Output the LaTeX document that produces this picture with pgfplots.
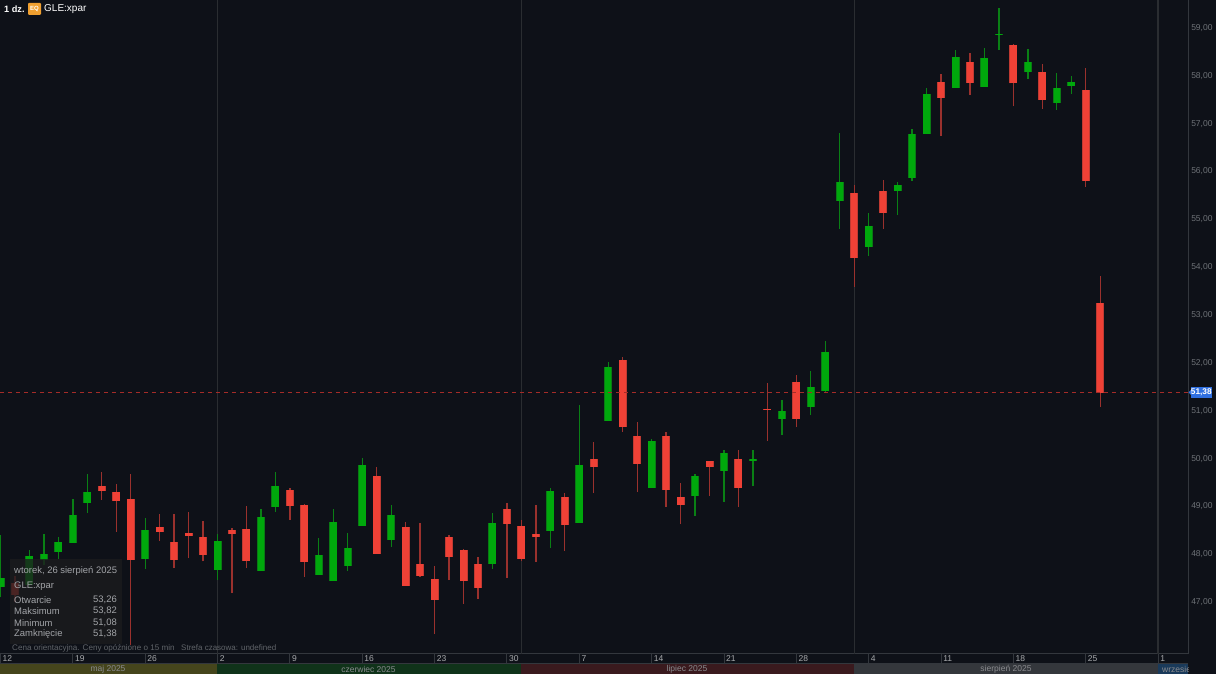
\documentclass[border=0pt]{standalone}
\usepackage{fontspec}
\setmainfont{Liberation Sans}
\usepackage{pgfplots}
\usepackage{pgfplotstable}
\pgfplotsset{compat=1.18}
\definecolor{bg}{HTML}{0E1118}
\definecolor{gridc}{HTML}{2A2D31}
\definecolor{axc}{HTML}{33373D}
\definecolor{upb}{HTML}{00A80C}
\definecolor{upd}{HTML}{0A7A14}
\definecolor{dnb}{HTML}{EF4136}
\definecolor{dnd}{HTML}{C03A32}
\definecolor{upw}{HTML}{0A8015}
\definecolor{dnw}{HTML}{9A312D}
\definecolor{txt}{HTML}{A2A4A8}
\definecolor{tickc}{HTML}{6E7277}
\definecolor{mmaj}{HTML}{45451C}
\definecolor{mcze}{HTML}{10331A}
\definecolor{mlip}{HTML}{3A1A1E}
\definecolor{msie}{HTML}{34373C}
\definecolor{mwrz}{HTML}{1A3A5A}
\definecolor{tipc}{HTML}{1C1C1E}
\definecolor{tagc}{HTML}{2F6FE0}
\definecolor{eqc}{HTML}{F0A030}
\pgfplotstableread{
i low bot top high
0 47.10 47.32 47.50 48.40
2 47.30 47.36 47.97 48.09
3 47.78 47.88 48.01 48.42
4 47.90 48.05 48.26 48.37
5 48.24 48.24 48.83 49.16
6 48.87 49.07 49.31 49.68
10 47.69 47.90 48.51 48.76
15 47.46 47.67 48.28 48.42
18 47.66 47.66 48.78 48.95
19 48.89 48.99 49.43 49.72
22 47.57 47.57 47.99 48.34
23 47.44 47.44 48.68 48.95
24 47.65 47.76 48.14 48.45
25 48.59 48.59 49.87 50.01
27 48.16 48.30 48.83 49.02
34 47.69 47.80 48.66 48.86
38 48.13 48.49 49.33 49.39
40 48.66 48.66 49.87 51.12
42 50.79 50.79 51.91 52.02
45 49.39 49.39 50.37 50.41
48 48.81 49.22 49.64 49.68
50 49.09 49.74 50.12 50.18
52 49.43 49.95 49.99 50.17
54 50.49 50.83 51.00 51.22
56 50.91 51.08 51.50 51.84
57 51.37 51.42 52.23 52.46
58 54.80 55.39 55.79 56.81
60 54.23 54.42 54.87 55.13
62 55.09 55.59 55.72 55.78
63 55.80 55.87 56.78 56.89
64 56.78 56.78 57.62 57.75
66 57.75 57.75 58.39 58.55
68 57.77 57.77 58.38 58.58
69 58.55 58.85 58.88 59.42
71 57.94 58.07 58.29 58.56
73 57.29 57.43 57.75 58.06
74 57.62 57.79 57.87 58.00
}\upt
\pgfplotstableread{
i low bot top high
1 47.00 47.15 47.40 47.55
7 49.14 49.33 49.43 49.73
8 48.47 49.11 49.30 49.47
9 46.10 47.88 49.16 49.68
11 48.28 48.47 48.56 48.84
12 47.71 47.88 48.26 48.84
13 47.92 48.38 48.45 48.88
14 47.85 47.99 48.36 48.70
16 47.19 48.42 48.51 48.55
17 47.71 47.86 48.53 49.01
20 48.72 49.01 49.34 49.39
21 47.53 47.84 49.03 49.05
26 48.01 48.01 49.64 49.82
28 47.34 47.34 48.56 48.68
29 47.53 47.55 47.80 48.66
30 46.33 47.05 47.48 47.76
31 47.46 47.94 48.36 48.41
32 46.97 47.44 48.10 48.11
33 47.07 47.30 47.80 47.94
35 47.50 48.63 48.95 49.07
36 47.85 47.90 48.59 48.72
37 47.84 48.36 48.42 49.03
39 48.07 48.61 49.20 49.28
41 49.28 49.83 49.99 50.35
43 50.56 50.66 52.06 52.13
44 49.30 49.89 50.47 50.77
46 48.99 49.34 50.48 50.56
47 48.63 49.03 49.20 49.49
49 49.22 49.83 49.94 49.95
51 48.99 49.39 50.00 50.17
53 50.37 51.02 51.04 51.58
55 50.66 50.83 51.61 51.75
59 53.59 54.19 55.56 55.72
61 54.80 55.14 55.60 55.82
65 56.75 57.54 57.87 58.04
67 57.60 57.85 58.29 58.48
70 57.36 57.84 58.65 58.67
72 57.31 57.50 58.08 58.25
75 55.68 55.81 57.70 58.16
76 51.08 51.38 53.26 53.82
}\dnt
\newcommand{\wicks}[2]{\addplot[draw=none,mark=none,forget plot,error bars/.cd,y dir=plus,y explicit,error mark=none,error bar style={line width=1.3pt,color=#2}] table[x=i,y=low,y error plus expr=\thisrow{high}-\thisrow{low}] {#1};}
\newcommand{\bodies}[3]{\addplot[draw=none,mark=none,forget plot,error bars/.cd,y dir=plus,y explicit,error mark=none,error bar style={line width=#3,color=#2}] table[x=i,y=bot,y error plus expr=\thisrow{top}-\thisrow{bot}] {#1};}
\newcommand{\tl}[4]{\node[anchor=west,inner sep=0pt,text=#3,font=\fontsize{#4}{#4}\selectfont] at #1 {#2};}
\newcommand{\tr}[4]{\node[anchor=east,inner sep=0pt,text=#3,font=\fontsize{#4}{#4}\selectfont] at #1 {#2};}
\newcommand{\tc}[4]{\node[anchor=center,inner sep=0pt,text=#3,font=\fontsize{#4}{#4}\selectfont] at #1 {#2};}
\begin{document}
\begin{tikzpicture}
\path[use as bounding box] (0pt,0pt) rectangle (1216pt,674pt);
\fill[bg] (0pt,0pt) rectangle (1216pt,674pt);
% month strip
\fill[mmaj] (0pt,0pt) rectangle (217pt,10.5pt);
\fill[mcze] (217pt,0pt) rectangle (521pt,10.5pt);
\fill[mlip] (521pt,0pt) rectangle (854pt,10.5pt);
\fill[msie] (854pt,0pt) rectangle (1158pt,10.5pt);
\fill[mwrz] (1158pt,0pt) rectangle (1188pt,10.5pt);
\draw[axc,line width=1pt] (0pt,10.5pt) -- (1188pt,10.5pt);
\begin{axis}[
  at={(0pt,20pt)},anchor=south west,
  scale only axis,width=1188pt,height=654pt,
  xmin=-0.0346,xmax=82.07,ymin=45.916,ymax=59.585,
  axis x line*=bottom,axis y line*=right,
  axis line style={-,color=axc,line width=1pt},
  xtick={0,5,10,15,20,25,30,35,40,45,50,55,60,65,70,75,80},
  xticklabels={12,19,26,2,9,16,23,30,7,14,21,28,4,11,18,25,1},
  ytick={47,48,49,50,51,52,53,54,55,56,57,58,59},
  xtick align=outside,
  major tick length=9pt,
  xtick style={color=axc,line width=1pt},
  ytick style={draw=none},
  xticklabel style={anchor=north west,font=\fontsize{8.5}{9}\selectfont,text=tickc!60!white,inner sep=0pt,xshift=2pt,yshift=7.5pt},
  yticklabel style={anchor=west,font=\fontsize{8.5}{9}\selectfont,text=tickc,inner sep=0pt,xshift=3pt,
    /pgf/number format/.cd,fixed,fixed zerofill,precision=2,use comma,assume math mode=true},
]
\addplot[gridc,line width=1.4pt,forget plot] coordinates {(15,45.916)(15,59.585)};
\addplot[gridc,line width=1.4pt,forget plot] coordinates {(36,45.916)(36,59.585)};
\addplot[gridc,line width=1.4pt,forget plot] coordinates {(59,45.916)(59,59.585)};
\addplot[gridc,line width=1.4pt,forget plot] coordinates {(80,45.916)(80,59.585)};
\wicks{\upt}{upw}
\wicks{\dnt}{dnw}
\bodies{\upt}{upd}{8pt}
\bodies{\dnt}{dnd}{8pt}
\bodies{\upt}{upb}{6.5pt}
\bodies{\dnt}{dnb}{6.5pt}
\addplot[color=dnw!90!red,line width=1.2pt,dash pattern=on 4pt off 4pt,forget plot] coordinates {(-0.0346,51.38)(82.07,51.38)};
\end{axis}
% tooltip
\fill[fill=tipc,opacity=.78] (9.5pt,30pt) rectangle (122pt,114.7pt);
\tl{(14pt,102.5pt)}{wtorek, 26 sierpień 2025}{txt}{9.45}
\tl{(14pt,88pt)}{GLE:xpar}{txt}{9.45}
\tl{(14pt,74pt)}{Otwarcie}{txt}{9.45}
\tl{(14pt,63pt)}{Maksimum}{txt}{9.45}
\tl{(14pt,51pt)}{Minimum}{txt}{9.45}
\tl{(14pt,40pt)}{Zamknięcie}{txt}{9.45}
\tr{(117pt,74pt)}{53,26}{txt}{9.45}
\tr{(117pt,63pt)}{53,82}{txt}{9.45}
\tr{(117pt,51pt)}{51,08}{txt}{9.45}
\tr{(117pt,40pt)}{51,38}{txt}{9.45}
\tl{(12pt,26pt)}{Cena orientacyjna. Ceny opóźnione o 15 min}{tickc!110}{8.1}
\tl{(181pt,26pt)}{Strefa czasowa: undefined}{tickc!110}{8}
% months
\tc{(108pt,5pt)}{maj 2025}{txt!85!black}{8.5}
\tc{(368.5pt,5pt)}{czerwiec 2025}{txt!85!black}{8.5}
\tc{(687pt,5pt)}{lipiec 2025}{txt!85!black}{8.5}
\tc{(1006pt,5pt)}{sierpień 2025}{txt!85!black}{8.5}
\begin{scope}
\clip (1158pt,0pt) rectangle (1188pt,10.5pt);
\tl{(1162pt,5pt)}{wrzesień 2025}{txt!85!black}{8.5}
\end{scope}
% header
\tl{(4pt,664.5pt)}{\textbf{1 dz.}}{white}{9.2}
\fill[eqc,rounded corners=1pt] (28pt,659pt) rectangle (41pt,671pt);
\tc{(34.5pt,665pt)}{\textbf{EQ}}{white}{6}
\tl{(44pt,664.5pt)}{GLE:xpar}{white}{10}
% last price tag
\fill[tagc] (1190.7pt,276pt) rectangle (1212pt,287.3pt);
\fill[tagc] (1188.5pt,281.6pt) -- (1191pt,284pt) -- (1191pt,279pt) -- cycle;
\tc{(1201.3pt,281.6pt)}{\textbf{51,38}}{white}{8.3}
\end{tikzpicture}
\end{document}
